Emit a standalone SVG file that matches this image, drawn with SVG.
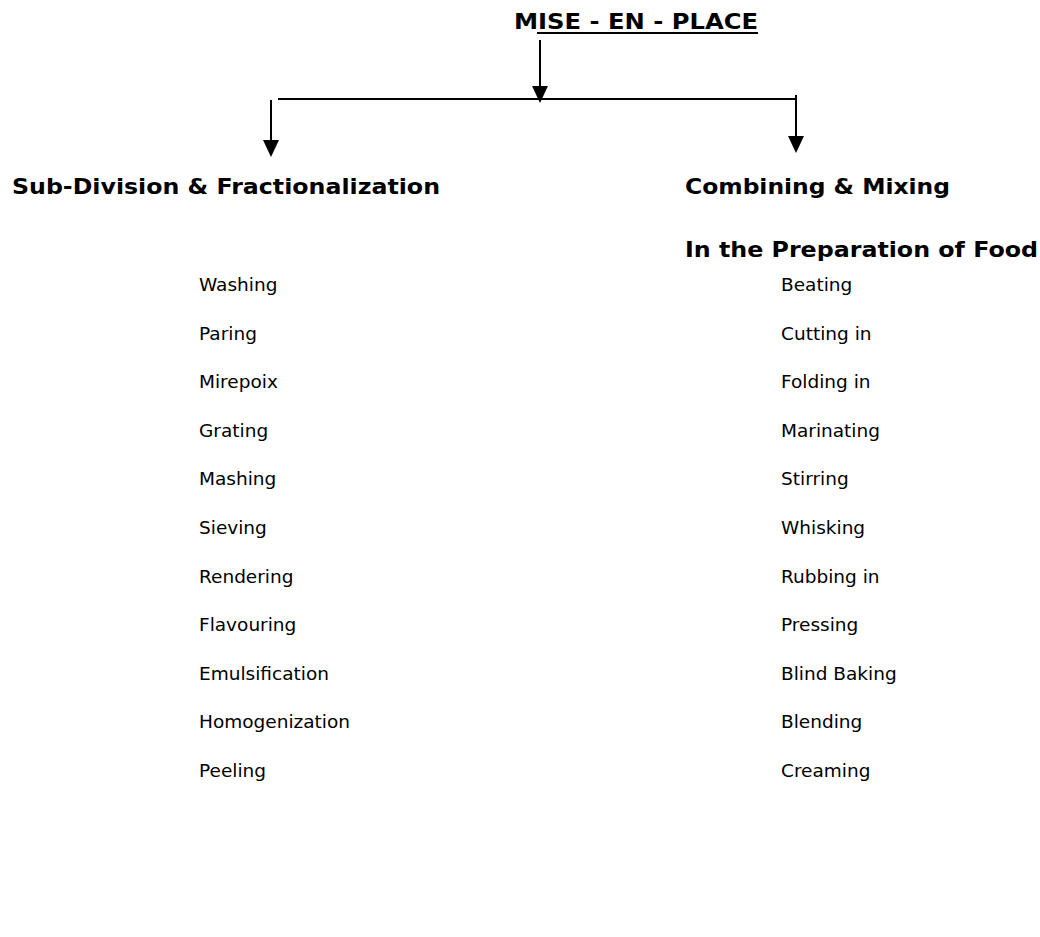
<svg xmlns="http://www.w3.org/2000/svg" width="1040" height="937" viewBox="0 0 1040 937">
<defs>
<style>
.t{font-family:"DejaVu Sans",Verdana,sans-serif;font-size:18.5px;fill:#000}
.b{font-family:"DejaVu Sans",Verdana,sans-serif;font-weight:bold;font-size:21px;fill:#000}
.ln{stroke:#000;stroke-width:2;fill:none}
.ah{fill:#000}
</style>
</defs>
<rect width="1040" height="937" fill="#fff"/>
<g id="title">
<text class="b" x="514" y="29" textLength="244" lengthAdjust="spacingAndGlyphs">MISE - EN - PLACE</text>
<line x1="537" y1="33" x2="758" y2="33" stroke="#000" stroke-width="2"/>
</g>
<g id="connectors">
<line class="ln" x1="278" y1="99" x2="796" y2="99"/>
<line class="ln" x1="540" y1="40" x2="540" y2="90"/>
<path class="ah" d="M532,86 L548,86 L540,103 Z"/>
<line class="ln" x1="271" y1="100" x2="271" y2="142"/>
<path class="ah" d="M263,140 L279,140 L271,157 Z"/>
<line class="ln" x1="796" y1="95" x2="796" y2="138"/>
<path class="ah" d="M788,136 L804,136 L796,153 Z"/>
</g>
<g id="left">
<text class="b" x="12" y="194" textLength="428" lengthAdjust="spacingAndGlyphs">Sub-Division &amp; Fractionalization</text>
<text class="t" x="199" y="291">Washing</text>
<text class="t" x="199" y="340">Paring</text>
<text class="t" x="199" y="388">Mirepoix</text>
<text class="t" x="199" y="437">Grating</text>
<text class="t" x="199" y="485">Mashing</text>
<text class="t" x="199" y="534">Sieving</text>
<text class="t" x="199" y="583">Rendering</text>
<text class="t" x="199" y="631">Flavouring</text>
<text class="t" x="199" y="680">Emulsification</text>
<text class="t" x="199" y="728">Homogenization</text>
<text class="t" x="199" y="777">Peeling</text>
</g>
<g id="right">
<text class="b" x="685" y="194" textLength="265" lengthAdjust="spacingAndGlyphs">Combining &amp; Mixing</text>
<text class="b" x="685" y="257" textLength="353" lengthAdjust="spacingAndGlyphs">In the Preparation of Food</text>
<text class="t" x="781" y="291">Beating</text>
<text class="t" x="781" y="340">Cutting in</text>
<text class="t" x="781" y="388">Folding in</text>
<text class="t" x="781" y="437">Marinating</text>
<text class="t" x="781" y="485">Stirring</text>
<text class="t" x="781" y="534">Whisking</text>
<text class="t" x="781" y="583">Rubbing in</text>
<text class="t" x="781" y="631">Pressing</text>
<text class="t" x="781" y="680">Blind Baking</text>
<text class="t" x="781" y="728">Blending</text>
<text class="t" x="781" y="777">Creaming</text>
</g>
</svg>
